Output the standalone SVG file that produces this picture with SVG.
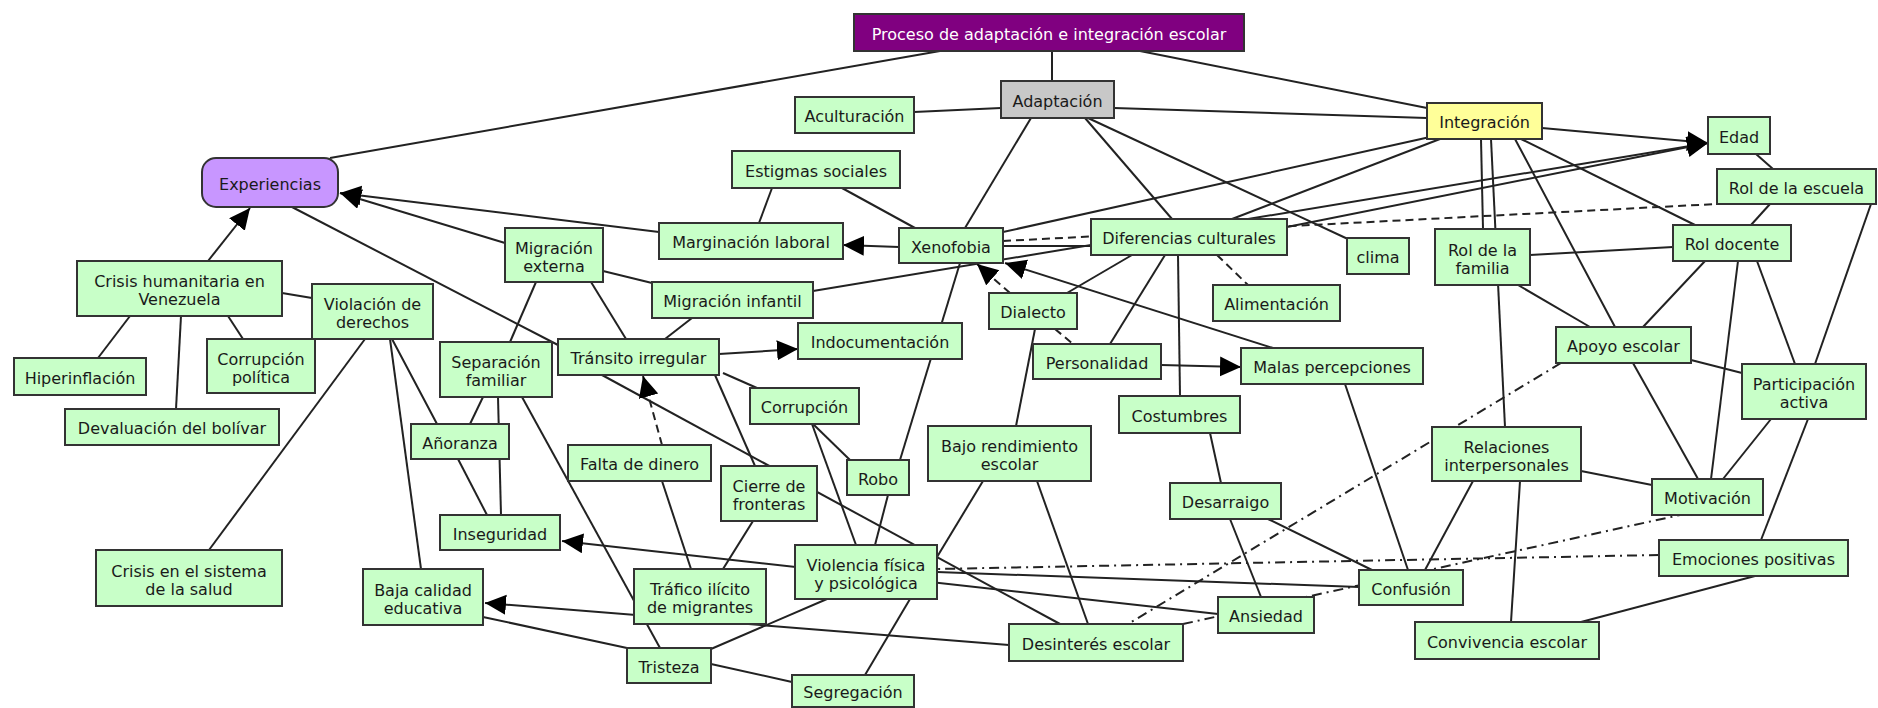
<svg xmlns="http://www.w3.org/2000/svg" width="1878" height="708" viewBox="0 0 1878 708">
<style>
.n rect{fill:#c8ffc8;stroke:#333;stroke-width:2}
.n text{font-family:"DejaVu Sans","Liberation Sans",sans-serif;font-size:16px;fill:#1a1a1a;text-anchor:middle}
#title rect{fill:#800080}
#title text{fill:#fff}
#experiencias rect{fill:#c896ff}
#adaptacion rect{fill:#c8c8c8}
#integracion rect{fill:#ffff99}
.c line{stroke:#222;stroke-width:2;fill:none}
.c .d{stroke-dasharray:8 5}
.c .dd{stroke-dasharray:10 5 2 5}
.c .a{marker-end:url(#ar)}
</style>
<defs>
<marker id="ar" markerUnits="userSpaceOnUse" markerWidth="22" markerHeight="22" refX="21" refY="10" orient="auto">
<path d="M0,0 L21,10 L0,20 z" fill="#000"/>
</marker>
</defs>
<rect width="1878" height="708" fill="#fff"/>
<g id="connectors" class="c">
<line x1="940" y1="51" x2="330" y2="158"/>
<line x1="1052" y1="51" x2="1052" y2="81"/>
<line x1="1140" y1="51" x2="1427" y2="108"/>
<line x1="1001" y1="108" x2="914" y2="112"/>
<line x1="1114" y1="108" x2="1427" y2="118"/>
<line x1="1031" y1="118" x2="965" y2="228"/>
<line x1="1085" y1="118" x2="1172" y2="219"/>
<line x1="1088" y1="118" x2="1350" y2="240"/>
<line x1="1003" y1="232" x2="1430" y2="137"/>
<line x1="1232" y1="219" x2="1440" y2="139"/>
<line class="a" x1="1542" y1="128" x2="1708" y2="143"/>
<line class="a" x1="813" y1="291" x2="1708" y2="143"/>
<line class="a" x1="1287" y1="227" x2="1708" y2="143"/>
<line x1="1481" y1="139" x2="1483" y2="229"/>
<line x1="1491" y1="139" x2="1505" y2="427"/>
<line x1="1515" y1="139" x2="1615" y2="327"/>
<line x1="1521" y1="139" x2="1695" y2="225"/>
<line x1="1756" y1="154" x2="1773" y2="169"/>
<line x1="1770" y1="204" x2="1751" y2="225"/>
<line x1="1871" y1="204" x2="1815" y2="364"/>
<line x1="1530" y1="255" x2="1673" y2="247"/>
<line x1="1518" y1="285" x2="1590" y2="327"/>
<line x1="1705" y1="261" x2="1643" y2="327"/>
<line x1="1738" y1="261" x2="1711" y2="479"/>
<line x1="1757" y1="261" x2="1795" y2="364"/>
<line x1="1691" y1="360" x2="1742" y2="373"/>
<line x1="1633" y1="363" x2="1698" y2="479"/>
<line x1="1771" y1="419" x2="1723" y2="479"/>
<line x1="1808" y1="419" x2="1761" y2="540"/>
<line x1="1581" y1="471" x2="1652" y2="485"/>
<line x1="1473" y1="481" x2="1425" y2="570"/>
<line x1="1520" y1="481" x2="1511" y2="622"/>
<line x1="1755" y1="576" x2="1581" y2="622"/>
<line x1="1268" y1="519" x2="1372" y2="570"/>
<line x1="1230" y1="519" x2="1261" y2="597"/>
<line x1="1210" y1="433" x2="1221" y2="483"/>
<line x1="1178" y1="255" x2="1180" y2="396"/>
<line x1="1165" y1="255" x2="1110" y2="344"/>
<line x1="1132" y1="255" x2="1067" y2="293"/>
<line x1="1035" y1="329" x2="1016" y2="426"/>
<line class="a" x1="1161" y1="365" x2="1241" y2="367"/>
<line class="a" x1="1273" y1="348" x2="1005" y2="263"/>
<line x1="1345" y1="384" x2="1408" y2="570"/>
<line class="a" x1="899" y1="247" x2="843" y2="245"/>
<line x1="915" y1="228" x2="842" y2="188"/>
<line x1="772" y1="188" x2="759" y2="223"/>
<line class="a" x1="659" y1="232" x2="340" y2="193"/>
<line class="a" x1="505" y1="243" x2="340" y2="193"/>
<line x1="292" y1="207" x2="558" y2="345"/>
<line class="a" x1="208" y1="261" x2="250" y2="208"/>
<line x1="130" y1="316" x2="98" y2="358"/>
<line x1="181" y1="316" x2="176" y2="409"/>
<line x1="228" y1="316" x2="243" y2="339"/>
<line x1="282" y1="293" x2="312" y2="298"/>
<line x1="365" y1="339" x2="209" y2="550"/>
<line x1="390" y1="339" x2="421" y2="569"/>
<line x1="392" y1="339" x2="437" y2="424"/>
<line x1="458" y1="459" x2="487" y2="515"/>
<line x1="498" y1="397" x2="501" y2="515"/>
<line x1="483" y1="397" x2="470" y2="424"/>
<line x1="522" y1="397" x2="660" y2="648"/>
<line x1="536" y1="282" x2="510" y2="342"/>
<line x1="591" y1="282" x2="626" y2="339"/>
<line x1="603" y1="271" x2="652" y2="283"/>
<line x1="692" y1="318" x2="665" y2="339"/>
<line class="a" x1="719" y1="354" x2="798" y2="349"/>
<line x1="723" y1="373" x2="757" y2="388"/>
<line x1="715" y1="375" x2="755" y2="466"/>
<line x1="602" y1="375" x2="1060" y2="624"/>
<line x1="812" y1="424" x2="856" y2="545"/>
<line x1="813" y1="424" x2="850" y2="460"/>
<line x1="960" y1="263" x2="900" y2="460"/>
<line x1="888" y1="495" x2="875" y2="545"/>
<line class="d a" x1="662" y1="445" x2="643" y2="376"/>
<line x1="662" y1="481" x2="691" y2="569"/>
<line x1="753" y1="521" x2="723" y2="569"/>
<line x1="827" y1="599" x2="711" y2="649"/>
<line x1="910" y1="599" x2="865" y2="675"/>
<line x1="711" y1="664" x2="792" y2="682"/>
<line x1="483" y1="617" x2="627" y2="648"/>
<line class="a" x1="1009" y1="645" x2="485" y2="603"/>
<line class="a" x1="1218" y1="614" x2="562" y2="541"/>
<line x1="937" y1="572" x2="1359" y2="587"/>
<line x1="983" y1="481" x2="937" y2="557"/>
<line x1="1037" y1="481" x2="1088" y2="624"/>
<line x1="1003" y1="246" x2="1091" y2="246"/>
<line class="d a" x1="1010" y1="293" x2="977" y2="264"/>
<line class="d" x1="1217" y1="255" x2="1248" y2="285"/>
<line class="d" x1="1055" y1="329" x2="1073" y2="344"/>
<line class="d" x1="1003" y1="241" x2="1717" y2="204"/>
<line class="dd" x1="1561" y1="363" x2="1128" y2="624"/>
<line class="dd" x1="1183" y1="624" x2="1680" y2="515"/>
<line class="dd" x1="1659" y1="555" x2="937" y2="569"/>
</g>
<g id="title" class="n"><rect x="854" y="14" width="390" height="37"/><text x="1049" y="39.5">Proceso de adaptación e integración escolar</text></g>
<g id="adaptacion" class="n"><rect x="1001" y="81" width="113" height="37"/><text x="1057.5" y="106.5">Adaptación</text></g>
<g id="aculturacion" class="n"><rect x="795" y="97" width="119" height="36"/><text x="854.5" y="122">Aculturación</text></g>
<g id="estigmas" class="n"><rect x="732" y="151" width="168" height="37"/><text x="816" y="176.5">Estigmas sociales</text></g>
<g id="experiencias" class="n"><rect x="202" y="158" width="136" height="49" rx="14" ry="14"/><text x="270" y="189.5">Experiencias</text></g>
<g id="integracion" class="n"><rect x="1427" y="103" width="115" height="36"/><text x="1484.5" y="128">Integración</text></g>
<g id="edad" class="n"><rect x="1708" y="117" width="62" height="37"/><text x="1739" y="142.5">Edad</text></g>
<g id="rol-escuela" class="n"><rect x="1717" y="169" width="159" height="35"/><text x="1796.5" y="193.5">Rol de la escuela</text></g>
<g id="rol-docente" class="n"><rect x="1673" y="225" width="118" height="36"/><text x="1732" y="250">Rol docente</text></g>
<g id="rol-familia" class="n"><rect x="1435" y="229" width="95" height="56"/><text x="1482.5" y="255.5">Rol de la</text><text x="1482.5" y="273.5">familia</text></g>
<g id="apoyo" class="n"><rect x="1556" y="327" width="135" height="36"/><text x="1623.5" y="352">Apoyo escolar</text></g>
<g id="participacion" class="n"><rect x="1742" y="364" width="124" height="55"/><text x="1804" y="390">Participación</text><text x="1804" y="408">activa</text></g>
<g id="relaciones" class="n"><rect x="1432" y="427" width="149" height="54"/><text x="1506.5" y="452.5">Relaciones</text><text x="1506.5" y="470.5">interpersonales</text></g>
<g id="motivacion" class="n"><rect x="1652" y="479" width="111" height="36"/><text x="1707.5" y="504">Motivación</text></g>
<g id="emociones" class="n"><rect x="1659" y="540" width="189" height="36"/><text x="1753.5" y="565">Emociones positivas</text></g>
<g id="convivencia" class="n"><rect x="1415" y="622" width="184" height="37"/><text x="1507" y="647.5">Convivencia escolar</text></g>
<g id="confusion" class="n"><rect x="1359" y="570" width="104" height="35"/><text x="1411" y="594.5">Confusión</text></g>
<g id="ansiedad" class="n"><rect x="1218" y="597" width="96" height="36"/><text x="1266" y="622">Ansiedad</text></g>
<g id="desinteres" class="n"><rect x="1009" y="624" width="174" height="37"/><text x="1096" y="649.5">Desinterés escolar</text></g>
<g id="desarraigo" class="n"><rect x="1170" y="483" width="111" height="36"/><text x="1225.5" y="508">Desarraigo</text></g>
<g id="segregacion" class="n"><rect x="792" y="675" width="122" height="32"/><text x="853" y="698">Segregación</text></g>
<g id="tristeza" class="n"><rect x="627" y="648" width="84" height="35"/><text x="669" y="672.5">Tristeza</text></g>
<g id="trafico" class="n"><rect x="634" y="569" width="132" height="55"/><text x="700" y="595">Tráfico ilícito</text><text x="700" y="613">de migrantes</text></g>
<g id="violencia" class="n"><rect x="795" y="545" width="142" height="54"/><text x="866" y="570.5">Violencia física</text><text x="866" y="588.5">y psicológica</text></g>
<g id="robo" class="n"><rect x="847" y="460" width="62" height="35"/><text x="878" y="484.5">Robo</text></g>
<g id="cierre" class="n"><rect x="721" y="466" width="96" height="55"/><text x="769" y="492">Cierre de</text><text x="769" y="510">fronteras</text></g>
<g id="falta-dinero" class="n"><rect x="568" y="445" width="143" height="36"/><text x="639.5" y="470">Falta de dinero</text></g>
<g id="inseguridad" class="n"><rect x="440" y="515" width="120" height="35"/><text x="500" y="539.5">Inseguridad</text></g>
<g id="baja-calidad" class="n"><rect x="363" y="569" width="120" height="56"/><text x="423" y="595.5">Baja calidad</text><text x="423" y="613.5">educativa</text></g>
<g id="crisis-salud" class="n"><rect x="96" y="550" width="186" height="56"/><text x="189" y="576.5">Crisis en el sistema</text><text x="189" y="594.5">de la salud</text></g>
<g id="crisis-humanitaria" class="n"><rect x="77" y="261" width="205" height="55"/><text x="179.5" y="287">Crisis humanitaria en</text><text x="179.5" y="305">Venezuela</text></g>
<g id="violacion" class="n"><rect x="312" y="284" width="121" height="55"/><text x="372.5" y="310">Violación de</text><text x="372.5" y="328">derechos</text></g>
<g id="hiperinflacion" class="n"><rect x="14" y="358" width="132" height="37"/><text x="80" y="383.5">Hiperinflación</text></g>
<g id="corrupcion-politica" class="n"><rect x="207" y="339" width="108" height="54"/><text x="261" y="364.5">Corrupción</text><text x="261" y="382.5">política</text></g>
<g id="devaluacion" class="n"><rect x="65" y="409" width="214" height="36"/><text x="172" y="434">Devaluación del bolívar</text></g>
<g id="anoranza" class="n"><rect x="411" y="424" width="98" height="35"/><text x="460" y="448.5">Añoranza</text></g>
<g id="separacion" class="n"><rect x="440" y="342" width="112" height="55"/><text x="496" y="368">Separación</text><text x="496" y="386">familiar</text></g>
<g id="migracion-externa" class="n"><rect x="505" y="228" width="98" height="54"/><text x="554" y="253.5">Migración</text><text x="554" y="271.5">externa</text></g>
<g id="marginacion" class="n"><rect x="659" y="223" width="184" height="36"/><text x="751" y="248">Marginación laboral</text></g>
<g id="xenofobia" class="n"><rect x="899" y="228" width="104" height="35"/><text x="951" y="252.5">Xenofobia</text></g>
<g id="diferencias" class="n"><rect x="1091" y="219" width="196" height="36"/><text x="1189" y="244">Diferencias culturales</text></g>
<g id="clima" class="n"><rect x="1347" y="238" width="62" height="36"/><text x="1378" y="263">clima</text></g>
<g id="alimentacion" class="n"><rect x="1213" y="285" width="127" height="36"/><text x="1276.5" y="310">Alimentación</text></g>
<g id="dialecto" class="n"><rect x="989" y="293" width="88" height="36"/><text x="1033" y="318">Dialecto</text></g>
<g id="personalidad" class="n"><rect x="1033" y="344" width="128" height="35"/><text x="1097" y="368.5">Personalidad</text></g>
<g id="malas" class="n"><rect x="1241" y="348" width="182" height="36"/><text x="1332" y="373">Malas percepciones</text></g>
<g id="costumbres" class="n"><rect x="1119" y="396" width="121" height="37"/><text x="1179.5" y="421.5">Costumbres</text></g>
<g id="bajo-rendimiento" class="n"><rect x="928" y="426" width="163" height="55"/><text x="1009.5" y="452">Bajo rendimiento</text><text x="1009.5" y="470">escolar</text></g>
<g id="migracion-infantil" class="n"><rect x="652" y="282" width="161" height="36"/><text x="732.5" y="307">Migración infantil</text></g>
<g id="transito" class="n"><rect x="558" y="339" width="161" height="36"/><text x="638.5" y="364">Tránsito irregular</text></g>
<g id="indocumentacion" class="n"><rect x="798" y="323" width="164" height="36"/><text x="880" y="348">Indocumentación</text></g>
<g id="corrupcion" class="n"><rect x="750" y="388" width="109" height="36"/><text x="804.5" y="413">Corrupción</text></g>
</svg>
